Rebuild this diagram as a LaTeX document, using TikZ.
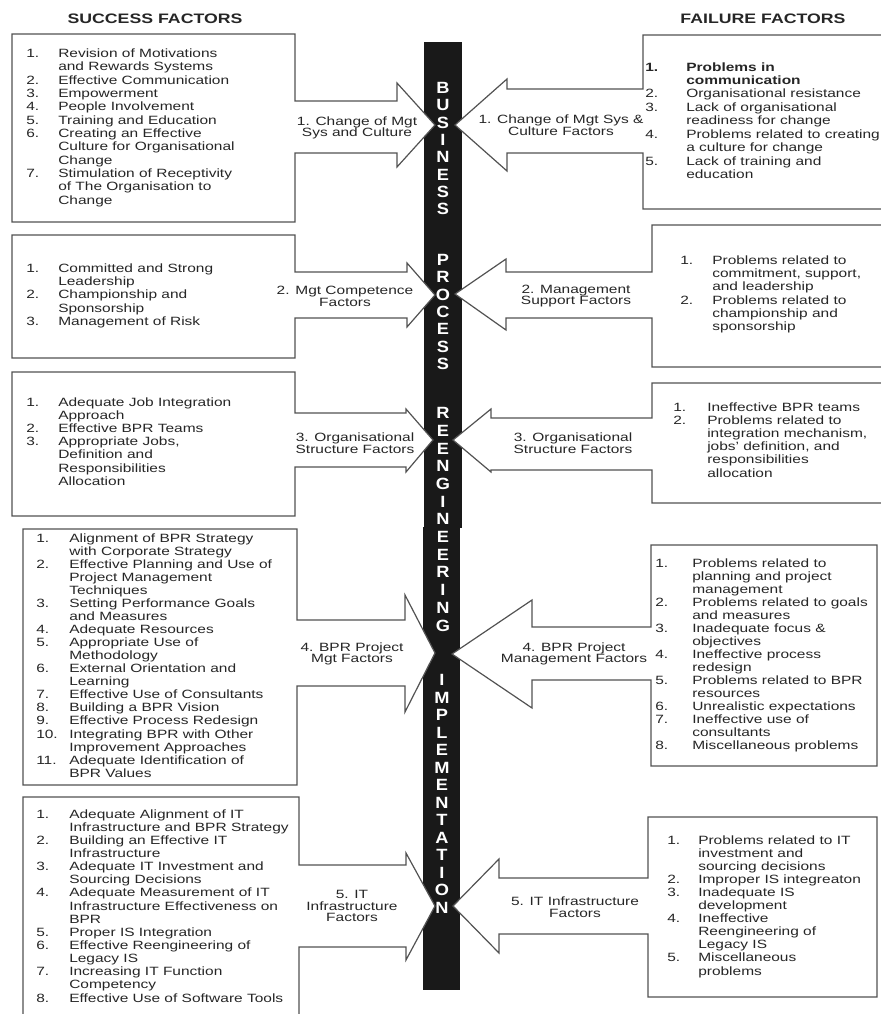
\documentclass[tikz,border=0pt]{standalone}
\usepackage{fontspec}
\setmainfont{Liberation Sans}[FakeStretch=1.29]
\newfontfamily\barfont{Liberation Sans}[FakeStretch=1.12]
\usepackage{array}
\newcommand\flist[3]{{\fontsize{9pt}{#2}\selectfont\begin{tabular}[t]{@{}p{#1}@{}l@{}}#3\end{tabular}}}
\tikzset{
  shp/.style={draw=black!68, line width=0.9pt, fill=white, line join=miter},
  lst/.style={anchor=base west, inner sep=0pt, text=black!85},
  lbl/.style={align=center, inner sep=0pt, text=black!85, font=\fontsize{9pt}{8.8pt}\selectfont},
  ttl/.style={anchor=base, inner sep=0pt, text=black!85, font=\fontsize{10.3pt}{12pt}\selectfont\bfseries},
  barl/.style={inner sep=0pt, text=white, font=\barfont\fontsize{12.2pt}{12.2pt}\selectfont\bfseries}
}
\begin{document}
\begin{tikzpicture}[x=0.75pt, y=-0.75pt]
\useasboundingbox (0,0) rectangle (881,1014);
\clip (0,0) rectangle (881,1014);
% titles
\node[ttl] (tS) at (155,23.5) {SUCCESS FACTORS};
\node[ttl] (tF) at (763,23.5) {FAILURE FACTORS};
% central bar
\fill[black!90] (424,42) rectangle (462,528);
\fill[black!90] (423,527) rectangle (460,990);
% left shapes (box + arrow)
\draw[shp] (12,34) -- (295,34) -- (295,101) -- (397,101) -- (397,83) -- (435,125) -- (397,167) -- (397,153) -- (295,153) -- (295,222) -- (12,222) -- cycle;
\draw[shp] (12,235) -- (295,235) -- (295,272) -- (407,272) -- (407,263) -- (435,295) -- (407,327) -- (407,318) -- (295,318) -- (295,358) -- (12,358) -- cycle;
\draw[shp] (12,372) -- (295,372) -- (295,413) -- (406,413) -- (406,409) -- (433,440) -- (406,472) -- (406,467) -- (295,467) -- (295,516) -- (12,516) -- cycle;
\draw[shp] (23,529) -- (297,529) -- (297,620) -- (405,620) -- (405,595) -- (435,653) -- (405,712) -- (405,686) -- (297,686) -- (297,785) -- (23,785) -- cycle;
\draw[shp] (23,797) -- (299,797) -- (299,865) -- (406,865) -- (406,853) -- (435,906) -- (406,960) -- (406,947) -- (299,947) -- (299,1030) -- (23,1030) -- cycle;
% right shapes
\draw[shp] (895,35) -- (643,35) -- (643,89) -- (507,89) -- (507,79) -- (455,125) -- (507,171) -- (507,153) -- (643,153) -- (643,209) -- (895,209);
\draw[shp] (895,225) -- (652,225) -- (652,272) -- (506,272) -- (506,259) -- (455,294) -- (506,330) -- (506,318) -- (652,318) -- (652,367) -- (895,367);
\draw[shp] (895,383) -- (652,383) -- (652,418) -- (491,418) -- (491,409) -- (453,440) -- (491,472) -- (491,470) -- (652,470) -- (652,503) -- (895,503);
\draw[shp] (877,545) -- (651,545) -- (651,627) -- (532,627) -- (532,600) -- (452,654) -- (532,708) -- (532,680) -- (651,680) -- (651,766) -- (877,766) -- cycle;
\draw[shp] (877,817) -- (648,817) -- (648,878) -- (499,878) -- (499,859) -- (453,906) -- (499,953) -- (499,934) -- (648,934) -- (648,997) -- (877,997) -- cycle;
% bar letters
\foreach \l [count=\i from 0] in {B,U,S,I,N,E,S,S}
  \node[barl] (bA\i) at (443,{88+17.3*\i}) {\l};
\foreach \l [count=\i from 0] in {P,R,O,C,E,S,S}
  \node[barl] (bB\i) at (443,{260+17.3*\i}) {\l};
\foreach \l [count=\i from 0] in {R,E,E,N,G,I,N,E,E,R,I,N,G}
  \node[barl] (bC\i) at (443,{413+17.7*\i}) {\l};
\foreach \l [count=\i from 0] in {I,M,P,L,E,M,E,N,T,A,T,I,O,N}
  \node[barl] (bD\i) at (442,{680+17.5*\i}) {\l};
% arrow labels
\node[lbl] (aL1) at (357,128) {1. Change of Mgt\\Sys and Culture};
\node[lbl] (aR1) at (561,125) {1. Change of Mgt Sys \&\\Culture Factors};
\node[lbl] (aL2) at (345,296) {2. Mgt Competence\\Factors};
\node[lbl] (aR2) at (576,296) {2. Management\\Support Factors};
\node[lbl] (aL3) at (355,443) {3. Organisational\\Structure Factors};
\node[lbl] (aR3) at (573,443) {3. Organisational\\Structure Factors};
\node[lbl] (aL4) at (352,654) {4. BPR Project\\Mgt Factors};
\node[lbl] (aR4) at (574,654) {4. BPR Project\\Management Factors};
\node[lbl] (aL5) at (352,906) {5. IT\\Infrastructure\\Factors};
\node[lbl] (aR5) at (575,907) {5. IT Infrastructure\\Factors};
% lists
\node[lst] (xL1) at (26,57.5) {\flist{24pt}{10pt}{%
1. & Revision of Motivations\\
   & and Rewards Systems\\
2. & Effective Communication\\
3. & Empowerment\\
4. & People Involvement\\
5. & Training and Education\\
6. & Creating an Effective\\
   & Culture for Organisational\\
   & Change\\
7. & Stimulation of Receptivity\\
   & of The Organisation to\\
   & Change}};
\node[lst] (xR1) at (645,71) {\flist{30.75pt}{10.1pt}{%
\textbf{1.} & \textbf{Problems in}\\
   & \textbf{communication}\\
2. & Organisational resistance\\
3. & Lack of organisational\\
   & readiness for change\\
4. & Problems related to creating\\
   & a culture for change\\
5. & Lack of training and\\
   & education}};
\node[lst] (xL2) at (26,272) {\flist{24pt}{10.1pt}{%
1. & Committed and Strong\\
   & Leadership\\
2. & Championship and\\
   & Sponsorship\\
3. & Management of Risk}};
\node[lst] (xR2) at (680,264) {\flist{24pt}{10pt}{%
1. & Problems related to\\
   & commitment, support,\\
   & and leadership\\
2. & Problems related to\\
   & championship and\\
   & sponsorship}};
\node[lst] (xL3) at (26,406) {\flist{24pt}{9.9pt}{%
1. & Adequate Job Integration\\
   & Approach\\
2. & Effective BPR Teams\\
3. & Appropriate Jobs,\\
   & Definition and\\
   & Responsibilities\\
   & Allocation}};
\node[lst] (xR3) at (673,411) {\flist{25.5pt}{9.9pt}{%
1. & Ineffective BPR teams\\
2. & Problems related to\\
   & integration mechanism,\\
   & jobs' definition, and\\
   & responsibilities\\
   & allocation}};
\node[lst] (xL4) at (36,542) {\flist{24.75pt}{9.8pt}{%
1.  & Alignment of BPR Strategy\\
    & with Corporate Strategy\\
2.  & Effective Planning and Use of\\
    & Project Management\\
    & Techniques\\
3.  & Setting Performance Goals\\
    & and Measures\\
4.  & Adequate Resources\\
5.  & Appropriate Use of\\
    & Methodology\\
6.  & External Orientation and\\
    & Learning\\
7.  & Effective Use of Consultants\\
8.  & Building a BPR Vision\\
9.  & Effective Process Redesign\\
10. & Integrating BPR with Other\\
    & Improvement Approaches\\
11. & Adequate Identification of\\
    & BPR Values}};
\node[lst] (xR4) at (655,567) {\flist{27.75pt}{9.8pt}{%
1. & Problems related to\\
   & planning and project\\
   & management\\
2. & Problems related to goals\\
   & and measures\\
3. & Inadequate focus \&\\
   & objectives\\
4. & Ineffective process\\
   & redesign\\
5. & Problems related to BPR\\
   & resources\\
6. & Unrealistic expectations\\
7. & Ineffective use of\\
   & consultants\\
8. & Miscellaneous problems}};
\node[lst] (xL5) at (36,818) {\flist{24.75pt}{9.86pt}{%
1. & Adequate Alignment of IT\\
   & Infrastructure and BPR Strategy\\
2. & Building an Effective IT\\
   & Infrastructure\\
3. & Adequate IT Investment and\\
   & Sourcing Decisions\\
4. & Adequate Measurement of IT\\
   & Infrastructure Effectiveness on\\
   & BPR\\
5. & Proper IS Integration\\
6. & Effective Reengineering of\\
   & Legacy IS\\
7. & Increasing IT Function\\
   & Competency\\
8. & Effective Use of Software Tools}};
\node[lst] (xR5) at (667,844) {\flist{23.25pt}{9.83pt}{%
1. & Problems related to IT\\
   & investment and\\
   & sourcing decisions\\
2. & Improper IS integreaton\\
3. & Inadequate IS\\
   & development\\
4. & Ineffective\\
   & Reengineering of\\
   & Legacy IS\\
5. & Miscellaneous\\
   & problems}};
\end{tikzpicture}
\end{document}
